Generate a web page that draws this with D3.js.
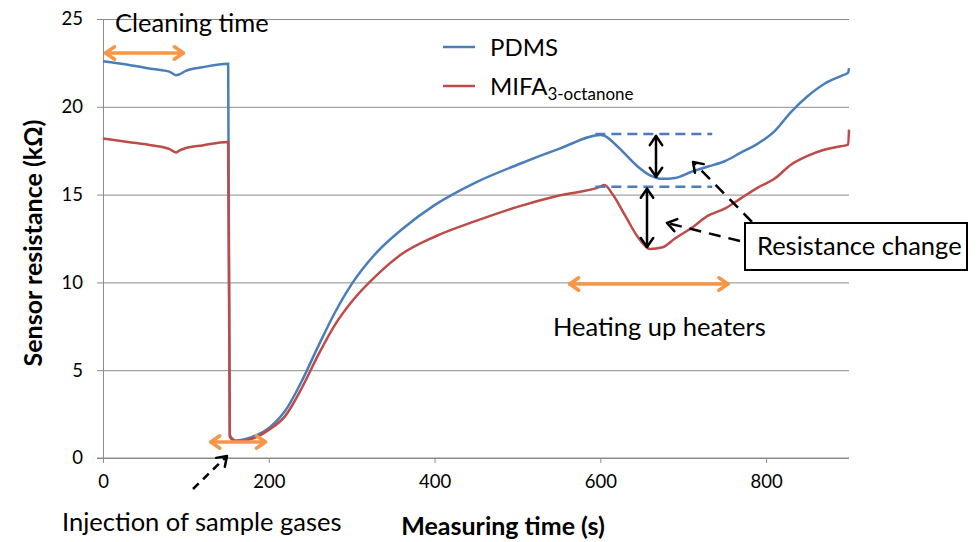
<!DOCTYPE html>
<html>
<head>
<meta charset="utf-8">
<script src="https://cdn.jsdelivr.net/npm/d3@7"></script>
<style>
	body { margin: 0; background: #fff; }
	svg text { font-family: Lato, "Open Sans", sans-serif; fill: #000; }
</style>
</head>
<body>
<script>
// measuring time (s)
let time = [0, 30, 60, 80, 88, 92, 100, 120, 150, 151, 153, 160, 180, 200, 220, 240, 260, 280, 300, 330, 360, 400, 450, 500, 550, 600, 605, 615, 630, 645, 660, 675, 690, 710, 730, 750, 770, 790, 810, 830, 850, 870, 890, 899, 900];
// sensor resistance (kOhm)
let pdms = [22.6, 22.4, 22.15, 22.0, 21.8, 21.85, 22.05, 22.25, 22.45, 22.45, 1.3, 1.0, 1.2, 1.7, 2.7, 4.4, 6.4, 8.3, 9.9, 11.7, 13.0, 14.4, 15.7, 16.7, 17.6, 18.4, 18.35, 18.0, 17.3, 16.6, 16.1, 15.9, 15.95, 16.3, 16.6, 16.9, 17.4, 17.9, 18.6, 19.7, 20.6, 21.3, 21.75, 21.95, 22.2];
let mifa = [18.2, 18.0, 17.8, 17.6, 17.4, 17.5, 17.65, 17.8, 18.0, 18.0, 1.2, 0.95, 1.1, 1.6, 2.4, 4.0, 5.9, 7.6, 8.9, 10.4, 11.6, 12.6, 13.5, 14.3, 14.95, 15.45, 15.55, 15.0, 13.8, 12.6, 11.9, 12.0, 12.5, 13.1, 13.8, 14.2, 14.8, 15.4, 15.9, 16.7, 17.2, 17.55, 17.75, 17.85, 18.7];

let xTicks = [0, 200, 400, 600, 800];
let yTicks = [0, 5, 10, 15, 20, 25];

let W = 977, H = 542;
let padLeft = 103, padRight = 849, padTop = 19, padBottom = 458;

let blue = "#4a7ebb", red = "#be4b48", orange = "#f79646", grid = "#8c8c8c";

let svg = d3.select("body").append("svg").attr("width", W).attr("height", H);

let x = d3.scaleLinear().domain([0, 900]).range([padLeft, padRight]);
let y = d3.scaleLinear().domain([0, 25]).range([padBottom, padTop]);

// gridlines + y axis
let yAxis = svg.append("g").attr("transform", `translate(${padLeft},0)`)
	.call(d3.axisLeft(y).tickValues(yTicks).tickSize(6).tickPadding(14));
yAxis.select(".domain").attr("stroke", grid);
yAxis.selectAll(".tick line").attr("stroke", grid);
yAxis.selectAll(".tick").append("line").attr("x1", 0).attr("x2", padRight - padLeft).attr("stroke", grid);
yAxis.selectAll("text").attr("font-size", 18.5).attr("font-family", "Lato, sans-serif");

let xAxis = svg.append("g").attr("transform", `translate(0,${padBottom})`)
	.call(d3.axisBottom(x).tickValues(xTicks).tickSize(5).tickPadding(12));
xAxis.select(".domain").attr("stroke", grid).attr("d", `M${padLeft - 6},0H${padRight}`);
xAxis.selectAll(".tick line").attr("stroke", grid);
xAxis.selectAll("text").attr("font-size", 18.5).attr("font-family", "Lato, sans-serif");

// axis titles
svg.append("text").attr("x", 503).attr("y", 535).attr("text-anchor", "middle")
	.attr("font-size", 25).attr("font-weight", "bold").text("Measuring time (s)");
svg.append("text").attr("transform", "translate(42,243) rotate(-90)").attr("text-anchor", "middle")
	.attr("font-size", 25).attr("font-weight", "bold").text("Sensor resistance (kΩ)");

// series
let line = d3.line().x((d, i) => x(time[i])).y(d => y(d)).curve(d3.curveMonotoneX);
svg.append("path").attr("d", line(pdms)).attr("fill", "none").attr("stroke", blue).attr("stroke-width", 2.5);
svg.append("path").attr("d", line(mifa)).attr("fill", "none").attr("stroke", red).attr("stroke-width", 2.5);

// legend
let leg = svg.append("g");
leg.append("line").attr("x1", 443).attr("x2", 475).attr("y1", 47).attr("y2", 47).attr("stroke", blue).attr("stroke-width", 2.5);
leg.append("text").attr("x", 490).attr("y", 56).attr("font-size", 24).text("PDMS");
leg.append("line").attr("x1", 443).attr("x2", 475).attr("y1", 86).attr("y2", 86).attr("stroke", red).attr("stroke-width", 2.5);
let t2 = leg.append("text").attr("x", 490).attr("y", 95).attr("font-size", 24);
t2.append("tspan").text("MIFA");
t2.append("tspan").attr("font-size", 17).attr("dy", 5).text("3-octanone");

// arrow helpers
function head(x1, y1, x2, y2, len, spread) {
	let a = Math.atan2(y2 - y1, x2 - x1);
	let p1 = [x2 - len * Math.cos(a - spread), y2 - len * Math.sin(a - spread)];
	let p2 = [x2 - len * Math.cos(a + spread), y2 - len * Math.sin(a + spread)];
	return `M${p1[0]},${p1[1]}L${x2},${y2}L${p2[0]},${p2[1]}`;
}
function arrow(x1, y1, x2, y2, color, w, both, dash) {
	let g = svg.append("g").attr("fill", "none").attr("stroke", color).attr("stroke-width", w)
		.attr("stroke-linecap", "round").attr("stroke-linejoin", "round");
	g.append("line").attr("x1", x1).attr("y1", y1).attr("x2", x2).attr("y2", y2)
		.attr("stroke-dasharray", dash || null).attr("stroke-linecap", dash ? "butt" : "round");
	g.append("path").attr("d", head(x1, y1, x2, y2, 11, 0.6));
	if (both) g.append("path").attr("d", head(x2, y2, x1, y1, 11, 0.6));
}

// cleaning time
svg.append("text").attr("x", 115).attr("y", 32).attr("font-size", 25.5).text("Cleaning time");
arrow(x(3), 53, x(97), 53, orange, 3.5, true);

// injection
arrow(x(130), 442, x(196), 442, orange, 3.5, true);
arrow(193, 489, 227, 456, "#000", 2.5, false, "8,6");
svg.append("text").attr("x", 62).attr("y", 531).attr("font-size", 25.5).text("Injection of sample gases");

// heating
arrow(x(563), 284, x(754), 284, orange, 3.5, true);
svg.append("text").attr("x", 553).attr("y", 336).attr("font-size", 25.5).text("Heating up heaters");

// baselines and resistance change
svg.append("line").attr("x1", x(594)).attr("x2", x(735)).attr("y1", y(18.45)).attr("y2", y(18.45))
	.attr("stroke", blue).attr("stroke-width", 2.5).attr("stroke-dasharray", "10,6");
svg.append("line").attr("x1", x(594)).attr("x2", x(735)).attr("y1", y(15.45)).attr("y2", y(15.45))
	.attr("stroke", blue).attr("stroke-width", 2.5).attr("stroke-dasharray", "10,6");
arrow(656, y(18.45) + 2, 656, y(15.9) - 2, "#000", 2.5, true);
arrow(647, y(15.45) + 2, 647, y(11.9) - 2, "#000", 2.5, true);

arrow(752, 222, 693, 162, "#000", 2.5, false, "12,8");
arrow(740, 241, 667, 223, "#000", 2.5, false, "12,8");

svg.append("rect").attr("x", 745).attr("y", 223).attr("width", 222).attr("height", 47)
	.attr("fill", "#fff").attr("stroke", "#000").attr("stroke-width", 2);
svg.append("text").attr("x", 757).attr("y", 255).attr("font-size", 25.5).text("Resistance change");
</script>
</body>
</html>
